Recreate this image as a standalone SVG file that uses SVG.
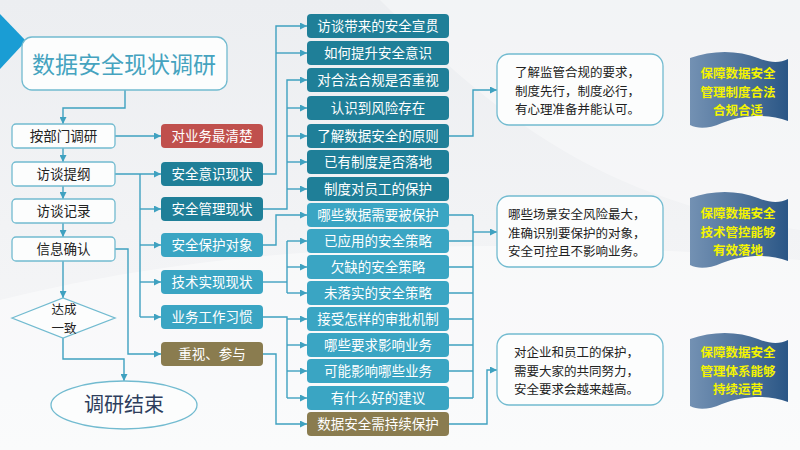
<svg xmlns="http://www.w3.org/2000/svg" width="800" height="450" viewBox="0 0 800 450">
<defs>
<linearGradient id="bg" x1="0" y1="0" x2="0" y2="1">
<stop offset="0" stop-color="#eceef1"/>
<stop offset="0.5" stop-color="#f2f3f5"/>
<stop offset="1" stop-color="#f6f7f8"/>
</linearGradient>
<linearGradient id="flag" x1="0" y1="0" x2="1" y2="0">
<stop offset="0" stop-color="#7391b3"/>
<stop offset="0.6" stop-color="#4a6f98"/>
<stop offset="1" stop-color="#2a5686"/>
</linearGradient>
<marker id="ar" viewBox="0 0 8 8" refX="8" refY="4" markerWidth="7" markerHeight="7" markerUnits="userSpaceOnUse" orient="auto">
<path d="M0,0 L8,4 L0,8 Z" fill="#3fa1c0"/>
</marker>
<path id="fl" d="M0,5 C22,-3 48,-3 68,5 C80,10 90,10 98,6 L98,68 C78,60 52,62 32,70 C18,76 8,76 0,72 Z"/>
</defs>
<style>
.cn{fill:none;stroke:#3fa1c0;stroke-width:1.4}
.ca{fill:none;stroke:#3fa1c0;stroke-width:1.4;marker-end:url(#ar)}
.wb{fill:#fcfdfd;stroke:#72bbd0;stroke-width:1.3}
.t{font-family:"Noto Sans CJK SC","Noto Sans",sans-serif;font-size:13.5px;text-anchor:middle}
.td{font-family:"Noto Sans CJK SC","Noto Sans",sans-serif;font-size:12.5px;text-anchor:middle;fill:#222222}
.tw{font-family:"Noto Sans CJK SC","Noto Sans",sans-serif;font-size:13.5px;text-anchor:middle;fill:#ffffff}
.tl{font-family:"Noto Sans CJK SC","Noto Sans",sans-serif;font-size:12.5px;fill:#222222}
.ty{font-family:"Noto Sans CJK SC","Noto Sans",sans-serif;font-size:12.5px;font-weight:bold;text-anchor:middle;fill:#f4f400}
.dk{fill:#1f7f98}
.lt{fill:#3aa5c3}
.rd{fill:#c0504d}
.ol{fill:#8a7c4f}
</style>
<rect width="800" height="450" fill="url(#bg)"/>
<path d="M0,300 C200,250 450,230 800,260 L800,450 L0,450 Z" fill="#ffffff" opacity="0.45"/>
<path d="M380,0 C500,120 600,200 800,230 L800,0 Z" fill="#ffffff" opacity="0.35"/>
<polygon points="0,14 26,41 0,69" fill="#1a9dd4"/>

<g id="connectors">
<path class="ca" d="M125,90 V108 H63 V124"/>
<path class="ca" d="M63,148 V162"/>
<path class="ca" d="M63,186 V199"/>
<path class="ca" d="M63,223 V237"/>
<path class="ca" d="M63,261 V298"/>
<path class="ca" d="M63,338 V359 H124 V381"/>
<path class="ca" d="M115,136 H161"/>
<path class="ca" d="M115,174 H161"/>
<path class="cn" d="M140,174 V317"/>
<path class="ca" d="M140,209 H161"/>
<path class="ca" d="M140,245 H161"/>
<path class="ca" d="M140,282 H161"/>
<path class="ca" d="M140,317 H161"/>
<path class="ca" d="M115,249 H128 V354 H161"/>
<path class="ca" d="M263,174 H276 V26 H307"/>
<path class="ca" d="M276,53 H307"/>
<path class="ca" d="M263,209 H287 V80 H307"/>
<path class="ca" d="M287,108 H307"/>
<path class="ca" d="M287,136 H307"/>
<path class="ca" d="M287,162 H307"/>
<path class="ca" d="M287,189 H307"/>
<path class="ca" d="M263,245 H276 V215 H307"/>
<path class="cn" d="M263,282 H287"/>
<path class="cn" d="M287,241 V293"/>
<path class="ca" d="M287,241 H307"/>
<path class="ca" d="M287,267 H307"/>
<path class="ca" d="M287,293 H307"/>
<path class="cn" d="M263,317 H287 V398"/>
<path class="ca" d="M287,319 H307"/>
<path class="ca" d="M287,345 H307"/>
<path class="ca" d="M287,371 H307"/>
<path class="ca" d="M287,398 H307"/>
<path class="ca" d="M263,354 H276 V424 H307"/>
<path class="ca" d="M449,136 H473 V90 H497"/>
<path class="cn" d="M473,215 V398 M449,215 H473 M449,241 H473 M449,267 H473 M449,293 H473 M449,319 H473 M449,345 H473 M449,371 H473 M449,398 H473"/>
<path class="ca" d="M473,232 H497"/>
<path class="ca" d="M449,424 H487 V370 H497"/>
</g>

<g id="title"><rect class="wb" x="22" y="37" width="205" height="53" rx="10"/><text x="124" y="73" style="font-family:'Noto Sans CJK SC',sans-serif;font-size:23px;text-anchor:middle;fill:#45a3bf">数据安全现状调研</text></g>

<g id="n-bumen"><rect class="wb" x="12" y="124" width="103" height="24" rx="4"/><text class="t" x="63.5" y="141" fill="#222">按部门调研</text></g>
<g id="n-tigang"><rect class="wb" x="12" y="162" width="103" height="24" rx="4"/><text class="t" x="63.5" y="179" fill="#222">访谈提纲</text></g>
<g id="n-jilu"><rect class="wb" x="12" y="199" width="103" height="24" rx="4"/><text class="t" x="63.5" y="216" fill="#222">访谈记录</text></g>
<g id="n-queren"><rect class="wb" x="12" y="237" width="103" height="24" rx="4"/><text class="t" x="63.5" y="254" fill="#222">信息确认</text></g>
<g id="n-dacheng"><polygon class="wb" points="12,318 63,298 115,318 63,338"/><text class="td" x="64" y="314">达成</text><text class="td" x="64" y="332.5">一致</text></g>
<g id="n-end"><ellipse class="wb" cx="124" cy="405" rx="73" ry="24"/><text x="124" y="412" style="font-family:'Noto Sans CJK SC',sans-serif;font-size:20px;text-anchor:middle;fill:#2d3d5c">调研结束</text></g>

<g id="m1"><rect class="rd" x="161" y="124" width="102" height="24" rx="4"/><text class="tw" x="212" y="141">对业务最清楚</text></g>
<g id="m2"><rect class="dk" x="161" y="162" width="102" height="24" rx="4"/><text class="tw" x="212" y="179">安全意识现状</text></g>
<g id="m3"><rect class="dk" x="161" y="197" width="102" height="24" rx="4"/><text class="tw" x="212" y="214">安全管理现状</text></g>
<g id="m4"><rect class="lt" x="161" y="233" width="102" height="24" rx="4"/><text class="tw" x="212" y="250">安全保护对象</text></g>
<g id="m5"><rect class="lt" x="161" y="270" width="102" height="24" rx="4"/><text class="tw" x="212" y="287">技术实现现状</text></g>
<g id="m6"><rect class="lt" x="161" y="305" width="102" height="24" rx="4"/><text class="tw" x="212" y="322">业务工作习惯</text></g>
<g id="m7"><rect class="ol" x="161" y="342" width="102" height="24" rx="4"/><text class="tw" x="212" y="359">重视、参与</text></g>

<g id="r1"><rect class="dk" x="307" y="14" width="142" height="24" rx="4"/><text class="tw" x="378" y="31">访谈带来的安全宣贯</text></g>
<g id="r2"><rect class="dk" x="307" y="41" width="142" height="24" rx="4"/><text class="tw" x="378" y="58">如何提升安全意识</text></g>
<g id="r3"><rect class="dk" x="307" y="68" width="142" height="24" rx="4"/><text class="tw" x="378" y="85">对合法合规是否重视</text></g>
<g id="r4"><rect class="dk" x="307" y="96" width="142" height="24" rx="4"/><text class="tw" x="378" y="113">认识到风险存在</text></g>
<g id="r5"><rect class="dk" x="307" y="124" width="142" height="24" rx="4"/><text class="tw" x="378" y="141">了解数据安全的原则</text></g>
<g id="r6"><rect class="dk" x="307" y="150" width="142" height="24" rx="4"/><text class="tw" x="378" y="167">已有制度是否落地</text></g>
<g id="r7"><rect class="dk" x="307" y="177" width="142" height="24" rx="4"/><text class="tw" x="378" y="194">制度对员工的保护</text></g>
<g id="r8"><rect class="lt" x="307" y="203" width="142" height="24" rx="4"/><text class="tw" x="378" y="220">哪些数据需要被保护</text></g>
<g id="r9"><rect class="lt" x="307" y="229" width="142" height="24" rx="4"/><text class="tw" x="378" y="246">已应用的安全策略</text></g>
<g id="r10"><rect class="lt" x="307" y="255" width="142" height="24" rx="4"/><text class="tw" x="378" y="272">欠缺的安全策略</text></g>
<g id="r11"><rect class="lt" x="307" y="281" width="142" height="24" rx="4"/><text class="tw" x="378" y="298">未落实的安全策略</text></g>
<g id="r12"><rect class="lt" x="307" y="307" width="142" height="24" rx="4"/><text class="tw" x="378" y="324">接受怎样的审批机制</text></g>
<g id="r13"><rect class="lt" x="307" y="333" width="142" height="24" rx="4"/><text class="tw" x="378" y="350">哪些要求影响业务</text></g>
<g id="r14"><rect class="lt" x="307" y="359" width="142" height="24" rx="4"/><text class="tw" x="378" y="376">可能影响哪些业务</text></g>
<g id="r15"><rect class="lt" x="307" y="386" width="142" height="24" rx="4"/><text class="tw" x="378" y="403">有什么好的建议</text></g>
<g id="r16"><rect class="ol" x="307" y="412" width="142" height="24" rx="4"/><text class="tw" x="378" y="429">数据安全需持续保护</text></g>

<g id="note1"><rect class="wb" x="497" y="54" width="166" height="71" rx="12"/><text class="tl" x="515" y="77">了解监管合规的要求，</text><text class="tl" x="515" y="95.5">制度先行，制度必行，</text><text class="tl" x="515" y="114">有心理准备并能认可。</text></g>
<g id="note2"><rect class="wb" x="497" y="196" width="166" height="71" rx="12"/><text class="tl" x="508" y="219">哪些场景安全风险最大，</text><text class="tl" x="508" y="237.5">准确识别要保护的对象，</text><text class="tl" x="508" y="256">安全可控且不影响业务。</text></g>
<g id="note3"><rect class="wb" x="497" y="334" width="166" height="71" rx="12"/><text class="tl" x="514" y="357">对企业和员工的保护，</text><text class="tl" x="514" y="375.5">需要大家的共同努力，</text><text class="tl" x="514" y="394">安全要求会越来越高。</text></g>

<g id="flag1"><use href="#fl" x="690" y="53" fill="url(#flag)"/><text class="ty" x="738" y="78">保障数据安全</text><text class="ty" x="738" y="96.5">管理制度合法</text><text class="ty" x="738" y="115">合规合适</text></g>
<g id="flag2"><use href="#fl" x="690" y="193" fill="url(#flag)"/><text class="ty" x="738" y="218">保障数据安全</text><text class="ty" x="738" y="236.5">技术管控能够</text><text class="ty" x="738" y="255">有效落地</text></g>
<g id="flag3"><use href="#fl" x="690" y="334" fill="url(#flag)"/><text class="ty" x="738" y="357">保障数据安全</text><text class="ty" x="738" y="375.5">管理体系能够</text><text class="ty" x="738" y="394">持续运营</text></g>
</svg>
